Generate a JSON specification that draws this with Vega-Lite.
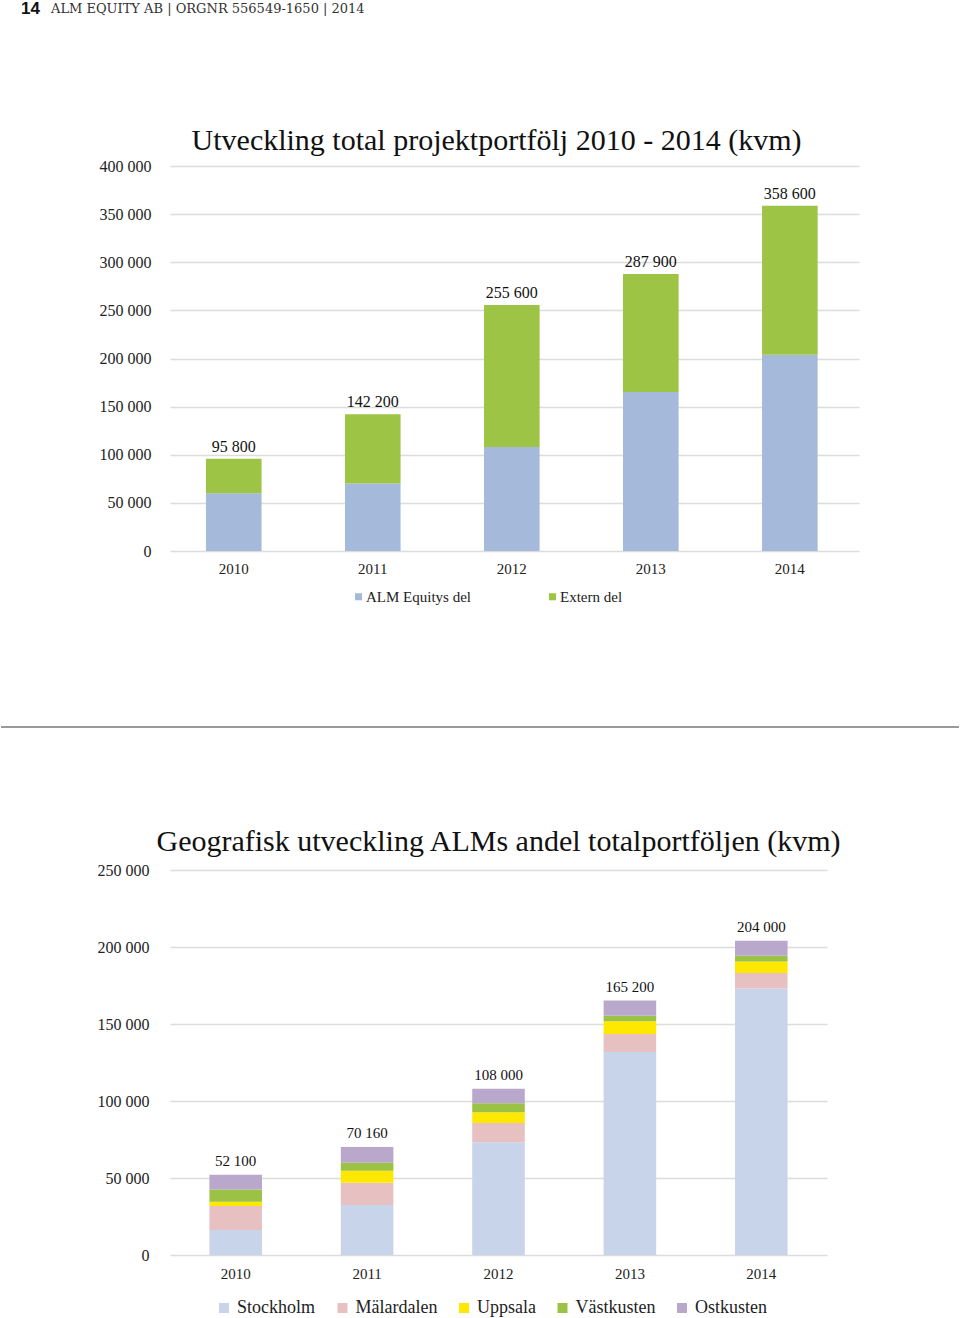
{
  "$schema": "https://vega.github.io/schema/vega-lite/v6.json",
  "padding": {"left": 0, "top": 0, "right": 0, "bottom": 0},
  "background": "white",
  "config": {
    "view": {"stroke": null},
    "font": "Liberation Serif",
    "locale": {"number": {"decimal": ",", "thousands": " ", "grouping": [3], "currency": ["", " kr"]}},
    "axis": {"labelFont": "Liberation Serif", "labelColor": "#222222", "gridColor": "#dcdcdc", "gridWidth": 1.5, "domain": false, "ticks": false, "title": null},
    "legend": {"labelFont": "Liberation Serif", "labelColor": "#222222"},
    "concat": {"spacing": 99}
  },
  "resolve": {"scale": {"color": "independent", "x": "independent", "y": "independent"}, "legend": {"color": "independent"}},
  "columns": 1,
  "concat": [
    {
      "width": 789,
      "height": 26,
      "data": {"values": [
        {"part": "page", "label": "14"},
        {"part": "title", "label": "ALM EQUITY AB | ORGNR 556549-1650 | 2014"}
      ]},
      "encoding": {
        "x": {"field": "part", "type": "nominal", "scale": {"type": "point", "domain": ["page", "title"], "range": [-149, -119], "padding": 0}, "axis": null},
        "text": {"field": "label", "type": "nominal"}
      },
      "layer": [
        {
          "transform": [{"filter": "datum.part === 'page'"}],
          "mark": {"type": "text", "align": "left", "baseline": "middle", "dy": -5, "font": "Liberation Sans", "fontSize": 17, "fontWeight": "bold", "color": "#111111"}
        },
        {
          "transform": [{"filter": "datum.part === 'title'"}],
          "mark": {"type": "text", "align": "left", "baseline": "middle", "dy": -5, "font": "DejaVu Serif", "fontSize": 13, "color": "#333333"}
        }
      ]
    },
    {
      "width": 689,
      "height": 385,
      "title": {"text": "Utveckling total projektportfölj 2010 - 2014 (kvm)", "frame": "group", "anchor": "middle", "dx": -18, "fontSize": 30, "fontWeight": "normal", "font": "Liberation Serif", "color": "#111111", "offset": 2},
      "data": {"values": [
        {"year": "2010", "del": "ALM Equitys del", "kvm": 59900},
        {"year": "2010", "del": "Extern del", "kvm": 35900},
        {"year": "2011", "del": "ALM Equitys del", "kvm": 70160},
        {"year": "2011", "del": "Extern del", "kvm": 72040},
        {"year": "2012", "del": "ALM Equitys del", "kvm": 108000},
        {"year": "2012", "del": "Extern del", "kvm": 147600},
        {"year": "2013", "del": "ALM Equitys del", "kvm": 165200},
        {"year": "2013", "del": "Extern del", "kvm": 122700},
        {"year": "2014", "del": "ALM Equitys del", "kvm": 204000},
        {"year": "2014", "del": "Extern del", "kvm": 154600}
      ]},
      "layer": [
        {
          "transform": [{"calculate": "indexof(['ALM Equitys del', 'Extern del'], datum.del)", "as": "stackOrder"}],
          "mark": {"type": "bar"},
          "encoding": {
            "x": {"field": "year", "type": "nominal", "scale": {"paddingInner": 0.6, "paddingOuter": 0.278, "align": 0.465}, "axis": {"labelAngle": 0, "labelFontSize": 15, "labelPadding": 10, "grid": false}},
            "y": {"field": "kvm", "type": "quantitative", "stack": "zero", "scale": {"domain": [0, 400000], "nice": false}, "axis": {"values": [0, 50000, 100000, 150000, 200000, 250000, 300000, 350000, 400000], "format": ",d", "labelPadding": 19, "minExtent": 169, "labelFontSize": 16}},
            "order": {"field": "stackOrder", "type": "quantitative", "sort": "ascending"},
            "color": {"field": "del", "type": "nominal", "sort": ["ALM Equitys del", "Extern del"], "scale": {"domain": ["ALM Equitys del", "Extern del"], "range": ["#a5b9db", "#9dc444"]},
              "legend": {"orient": "none", "legendX": 181, "legendY": 423, "direction": "horizontal", "title": null, "symbolType": "square", "symbolSize": 50, "symbolStrokeWidth": 0, "labelFontSize": 15, "labelOffset": 0, "columnPadding": 74}}
          }
        },
        {
          "transform": [{"aggregate": [{"op": "sum", "field": "kvm", "as": "total"}], "groupby": ["year"]}],
          "mark": {"type": "text", "baseline": "bottom", "dy": -4, "fontSize": 16, "color": "#111111"},
          "encoding": {
            "x": {"field": "year", "type": "nominal"},
            "y": {"field": "total", "type": "quantitative"},
            "text": {"field": "total", "type": "quantitative", "format": ",d"}
          }
        }
      ]
    },
    {
      "width": 789,
      "height": 23,
      "data": {"values": [{"start": 0, "end": 1, "level": 0}]},
      "mark": {"type": "rule", "color": "#999999", "strokeWidth": 2},
      "encoding": {
        "x": {"field": "start", "type": "quantitative", "scale": {"domain": [0, 1], "range": [-169, 789]}, "axis": null},
        "x2": {"field": "end"},
        "y": {"field": "level", "type": "quantitative", "scale": {"domain": [0, 1]}, "axis": null}
      }
    },
    {
      "width": 657,
      "height": 385,
      "title": {"text": "Geografisk utveckling ALMs andel totalportföljen (kvm)", "frame": "group", "anchor": "middle", "fontSize": 30, "fontWeight": "normal", "font": "Liberation Serif", "color": "#111111", "offset": 5},
      "data": {"values": [
        {"year": "2010", "region": "Stockholm", "kvm": 16300},
        {"year": "2010", "region": "Mälardalen", "kvm": 15500},
        {"year": "2010", "region": "Uppsala", "kvm": 2800},
        {"year": "2010", "region": "Västkusten", "kvm": 8000},
        {"year": "2010", "region": "Ostkusten", "kvm": 9500},
        {"year": "2011", "region": "Stockholm", "kvm": 32400},
        {"year": "2011", "region": "Mälardalen", "kvm": 14550},
        {"year": "2011", "region": "Uppsala", "kvm": 7800},
        {"year": "2011", "region": "Västkusten", "kvm": 5100},
        {"year": "2011", "region": "Ostkusten", "kvm": 10310},
        {"year": "2012", "region": "Stockholm", "kvm": 73150},
        {"year": "2012", "region": "Mälardalen", "kvm": 12530},
        {"year": "2012", "region": "Uppsala", "kvm": 6950},
        {"year": "2012", "region": "Västkusten", "kvm": 5870},
        {"year": "2012", "region": "Ostkusten", "kvm": 9500},
        {"year": "2013", "region": "Stockholm", "kvm": 131800},
        {"year": "2013", "region": "Mälardalen", "kvm": 11700},
        {"year": "2013", "region": "Uppsala", "kvm": 8300},
        {"year": "2013", "region": "Västkusten", "kvm": 3600},
        {"year": "2013", "region": "Ostkusten", "kvm": 9800},
        {"year": "2014", "region": "Stockholm", "kvm": 173000},
        {"year": "2014", "region": "Mälardalen", "kvm": 10050},
        {"year": "2014", "region": "Uppsala", "kvm": 7480},
        {"year": "2014", "region": "Västkusten", "kvm": 3850},
        {"year": "2014", "region": "Ostkusten", "kvm": 9620}
      ]},
      "layer": [
        {
          "transform": [{"calculate": "indexof(['Stockholm', 'Mälardalen', 'Uppsala', 'Västkusten', 'Ostkusten'], datum.region)", "as": "stackOrder"}],
          "mark": {"type": "bar"},
          "encoding": {
            "x": {"field": "year", "type": "nominal", "scale": {"paddingInner": 0.6, "paddingOuter": 0.3}, "axis": {"labelAngle": 0, "labelFontSize": 15, "labelPadding": 11, "grid": false}},
            "y": {"field": "kvm", "type": "quantitative", "stack": "zero", "scale": {"domain": [0, 250000], "nice": false}, "axis": {"values": [0, 50000, 100000, 150000, 200000, 250000], "format": ",d", "labelPadding": 21, "minExtent": 169, "labelFontSize": 16}},
            "order": {"field": "stackOrder", "type": "quantitative", "sort": "ascending"},
            "color": {"field": "region", "type": "nominal", "sort": ["Stockholm", "Mälardalen", "Uppsala", "Västkusten", "Ostkusten"], "scale": {"domain": ["Stockholm", "Mälardalen", "Uppsala", "Västkusten", "Ostkusten"], "range": ["#c8d4ea", "#e7c1c1", "#ffe800", "#9bc245", "#b9a8cc"]},
              "legend": {"orient": "none", "legendX": 45, "legendY": 429, "direction": "horizontal", "title": null, "symbolType": "square", "symbolSize": 100, "symbolStrokeWidth": 0, "labelFontSize": 18, "labelOffset": 4, "columnPadding": 17.5}}
          }
        },
        {
          "transform": [{"aggregate": [{"op": "sum", "field": "kvm", "as": "total"}], "groupby": ["year"]}],
          "mark": {"type": "text", "baseline": "bottom", "dy": -6, "fontSize": 15, "color": "#111111"},
          "encoding": {
            "x": {"field": "year", "type": "nominal"},
            "y": {"field": "total", "type": "quantitative"},
            "text": {"field": "total", "type": "quantitative", "format": ",d"}
          }
        }
      ]
    }
  ]
}
